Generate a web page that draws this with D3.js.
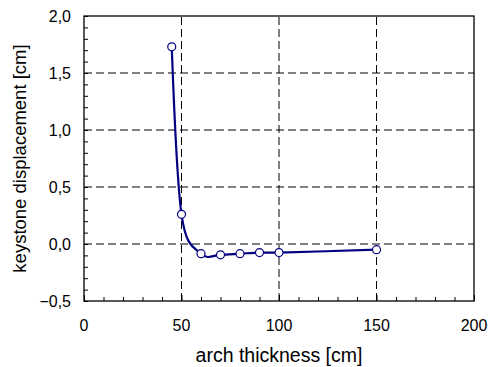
<!DOCTYPE html>
<html>
<head>
<meta charset="utf-8">
<script src="https://cdn.jsdelivr.net/npm/d3@7"></script>
<style>
  body { margin: 0; background: #fff; }
  text { font-family: "Liberation Sans", Arial, sans-serif; fill: #000; }
</style>
</head>
<body>
<div id="chart"></div>
<script>
// arch thickness [cm]
const thickness = [45, 50, 60, 70, 80, 90, 100, 150];
// keystone displacement [cm]
const displacement = [1.73, 0.26, -0.085, -0.095, -0.085, -0.075, -0.075, -0.05];
const xTicks = [0, 50, 100, 150, 200];
const yTicks = [-0.5, 0.0, 0.5, 1.0, 1.5, 2.0];

const width = 488, height = 367;
const margin = { top: 16, right: 14, bottom: 66, left: 84 };

const svg = d3.select('#chart').append('svg')
    .attr('width', width)
    .attr('height', height);

const x = d3.scaleLinear().domain([0, 200]).range([margin.left, width - margin.right]);
const y = d3.scaleLinear().domain([-0.5, 2.0]).range([height - margin.bottom, margin.top]);

const fmt = d => d3.format('.1f')(d).replace('.', ',');

// dashed grid
svg.append('g')
    .selectAll('line')
    .data(xTicks.filter(d => d > 0 && d < 200))
    .join('line')
    .attr('x1', d => x(d)).attr('x2', d => x(d))
    .attr('y1', y(-0.5)).attr('y2', y(2.0))
    .attr('stroke', '#000').attr('stroke-width', 1)
    .attr('stroke-dasharray', '8,4');

svg.append('g')
    .selectAll('line')
    .data(yTicks.filter(d => d > -0.5 && d < 2.0))
    .join('line')
    .attr('x1', x(0)).attr('x2', x(200))
    .attr('y1', d => y(d)).attr('y2', d => y(d))
    .attr('stroke', '#000').attr('stroke-width', 1)
    .attr('stroke-dasharray', '8,4');

// frame
svg.append('rect')
    .attr('x', x(0)).attr('y', y(2.0))
    .attr('width', x(200) - x(0)).attr('height', y(-0.5) - y(2.0))
    .attr('fill', 'none').attr('stroke', '#000').attr('stroke-width', 1.3);

// left axis, inward minor ticks
svg.append('g')
    .attr('transform', `translate(${x(0)},0)`)
    .call(d3.axisLeft(y).tickValues(d3.range(-5, 21).map(d => d / 10)).tickSize(-4).tickFormat(''))
    .call(g => g.select('.domain').remove())
    .call(g => g.selectAll('line').attr('stroke', '#000'));

svg.append('g')
    .selectAll('text')
    .data(yTicks)
    .join('text')
    .attr('x', x(0) - 13)
    .attr('y', d => y(d))
    .attr('dy', '0.4em')
    .attr('text-anchor', 'end')
    .attr('font-size', 16)
    .text(fmt);

// bottom axis, inward ticks (majors longer)
svg.append('g')
    .attr('transform', `translate(0,${y(-0.5)})`)
    .call(d3.axisBottom(x).tickValues(d3.range(0, 201, 10)).tickSize(-4).tickFormat(''))
    .call(g => g.select('.domain').remove())
    .call(g => g.selectAll('line').attr('stroke', '#000')
        .attr('y2', d => d % 50 === 0 ? -6 : -4));

svg.append('g')
    .selectAll('text')
    .data(xTicks)
    .join('text')
    .attr('x', d => x(d))
    .attr('y', 331)
    .attr('text-anchor', 'middle')
    .attr('font-size', 16)
    .text(d => d);

// axis titles
svg.append('text')
    .attr('x', (x(0) + x(200)) / 2)
    .attr('y', 362)
    .attr('text-anchor', 'middle')
    .attr('font-size', 19.5)
    .text('arch thickness [cm]');

svg.append('text')
    .attr('transform', `translate(26,${(y(-0.5) + y(2.0)) / 2}) rotate(-90)`)
    .attr('text-anchor', 'middle')
    .attr('font-size', 18.5)
    .text('keystone displacement [cm]');

// smoothed series
const pts = thickness.map((t, i) => [t, displacement[i]]);
const line = d3.line()
    .x(d => x(d[0]))
    .y(d => y(d[1]))
    .curve(d3.curveCardinal.tension(0));

svg.append('path')
    .datum(pts)
    .attr('d', line)
    .attr('fill', 'none')
    .attr('stroke', '#000080')
    .attr('stroke-width', 2.2);

svg.append('g')
    .selectAll('circle')
    .data(pts)
    .join('circle')
    .attr('cx', d => x(d[0]))
    .attr('cy', d => y(d[1]))
    .attr('r', 4)
    .attr('fill', '#fff')
    .attr('stroke', '#000080')
    .attr('stroke-width', 1.2);
</script>
</body>
</html>
